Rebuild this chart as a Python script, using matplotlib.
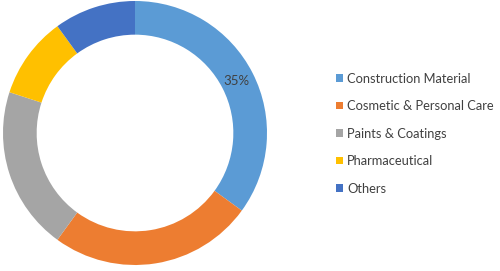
import matplotlib
matplotlib.use("Agg")
import matplotlib.pyplot as plt

categories = ["Construction Material", "Cosmetic & Personal Care", "Paints & Coatings",
              "Pharmaceutical", "Others"]
shares = [35, 25, 20, 10, 10]
colors = ["#5B9BD5", "#ED7D31", "#A5A5A5", "#FFC000", "#4472C4"]

plt.rcParams['font.family'] = ['Lato', 'DejaVu Sans']

fig = plt.figure(figsize=(5.0, 2.71), dpi=100)
ax = fig.add_axes([3/500, 6/271, 264/500, 264/271])
wedges, texts, autotexts = ax.pie(
    shares, colors=colors, startangle=90, counterclock=False, radius=1.0,
    wedgeprops=dict(width=0.255, edgecolor='none'),
    autopct=lambda p: f'{p:.0f}%' if p > 30 else '', pctdistance=0.86,
    textprops=dict(color='#404040', fontsize=9.5))
ax.set_xlim(-1, 1)
ax.set_ylim(-1, 1)
ax.set_aspect('equal')
ax.axis('off')

fig.legend(wedges, categories, loc='center left', bbox_to_anchor=(0.672, 0.507),
           frameon=False, fontsize=9.3, handlelength=0.52, handleheight=0.52,
           handletextpad=0.33, labelspacing=1.2, borderaxespad=0, borderpad=0,
           labelcolor='#404040')

fig.savefig("out.png", dpi=100)
